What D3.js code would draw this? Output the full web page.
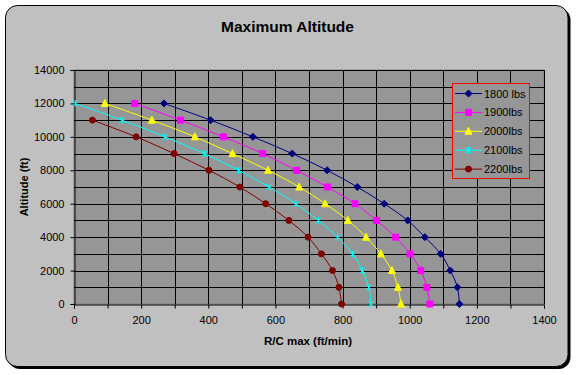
<!DOCTYPE html>
<html>
<head>
<meta charset="utf-8">
<script src="https://cdn.jsdelivr.net/npm/d3@7"></script>
<style>
  body { margin: 0; background: #fff; }
  text { font-family: "Liberation Sans", Arial, sans-serif; }
</style>
</head>
<body>
<div id="chart"></div>
<script>
let w = 576;
let h = 375;

// altitude (ft) for each point, top to bottom
let altitudes = [12000, 11000, 10000, 9000, 8000, 7000, 6000, 5000, 4000, 3000, 2000, 1000, 0];

// R/C max (ft/min) at each altitude
let rc1800 = [268, 407, 533, 650, 754, 844, 924, 994, 1045, 1092, 1121, 1142, 1148];
let rc1900 = [181, 317, 445, 562, 663, 755, 837, 901, 958, 1001, 1033, 1051, 1060];
let rc2000 = [92, 232, 360, 472, 578, 671, 748, 816, 870, 914, 947, 965, 974];
let rc2100 = [4, 143, 271, 388, 490, 581, 661, 728, 785, 830, 859, 878, 885];
let rc2200 = [null, 55, 185, 298, 402, 494, 571, 640, 697, 737, 770, 789, 797];

let seriesNames = ["1800 lbs", "1900lbs", "2000lbs", "2100lbs", "2200lbs"];
let xTicks = [0, 200, 400, 600, 800, 1000, 1200, 1400];
let yTicks = [0, 2000, 4000, 6000, 8000, 10000, 12000, 14000];

let series = [
    { name: seriesNames[0], vals: rc1800, color: "#000080", marker: "diamond" },
    { name: seriesNames[1], vals: rc1900, color: "#ff00ff", marker: "square" },
    { name: seriesNames[2], vals: rc2000, color: "#ffff00", marker: "triangle" },
    { name: seriesNames[3], vals: rc2100, color: "#00ffff", marker: "x" },
    { name: seriesNames[4], vals: rc2200, color: "#800000", marker: "circle" }
];

let svg = d3.select("#chart").append("svg")
    .attr("width", w)
    .attr("height", h);

// chart frame with shadow
svg.append("rect")
    .attr("x", 8).attr("y", 8)
    .attr("width", 562.5).attr("height", 361)
    .attr("rx", 12)
    .attr("fill", "#000");
svg.append("rect")
    .attr("x", 5.5).attr("y", 5.5)
    .attr("width", 562.5).attr("height", 361)
    .attr("rx", 12)
    .attr("fill", "#c0c0c0")
    .attr("stroke", "#000")
    .attr("stroke-width", 1);

let plotLeft = 74, plotRight = 544, plotTop = 70, plotBottom = 304;

let xScale = d3.scaleLinear().domain([0, 1400]).range([plotLeft, plotRight]);
let yScale = d3.scaleLinear().domain([0, 14000]).range([plotBottom, plotTop]);

// plot area
svg.append("rect")
    .attr("x", plotLeft).attr("y", plotTop)
    .attr("width", plotRight - plotLeft).attr("height", plotBottom - plotTop)
    .attr("fill", "#969696")
    .attr("stroke", "#808080");

// gridlines
let grid = svg.append("g").attr("stroke", "#000").attr("stroke-width", 1);
grid.selectAll(".vg").data(d3.range(100, 1401, 100)).enter()
    .append("line")
    .attr("x1", d => Math.round(xScale(d)) + 0.5)
    .attr("x2", d => Math.round(xScale(d)) + 0.5)
    .attr("y1", plotTop).attr("y2", plotBottom);
grid.selectAll(".hg").data(d3.range(1000, 14001, 1000)).enter()
    .append("line")
    .attr("y1", d => Math.round(yScale(d)) + 0.5)
    .attr("y2", d => Math.round(yScale(d)) + 0.5)
    .attr("x1", plotLeft).attr("x2", plotRight);

// axes
let xAxis = d3.axisBottom(xScale)
    .tickValues(d3.range(0, 1401, 100))
    .tickSize(4)
    .tickFormat(d => xTicks.includes(d) ? d : "");
let xAxisGroup = svg.append("g")
    .attr("transform", "translate(0," + (Math.round(plotBottom) + 0.5) + ")")
    .call(xAxis);

let yAxis = d3.axisLeft(yScale)
    .tickValues(yTicks)
    .tickSize(4)
    .tickFormat(d => d);
let yAxisGroup = svg.append("g")
    .attr("transform", "translate(" + (plotLeft + 0.5) + ",0)")
    .call(yAxis);

[xAxisGroup, yAxisGroup].forEach(g => {
    g.selectAll("path").attr("stroke", "#000");
    g.selectAll("line").attr("stroke", "#000");
    g.selectAll("text")
        .attr("font-family", "Liberation Sans, Arial, sans-serif")
        .attr("font-size", 11)
        .attr("fill", "#000");
});
xAxisGroup.selectAll("text").attr("dy", "0.9em").attr("y", 10);
yAxisGroup.selectAll("text").attr("x", -10);

// lines
let lineMaker = d3.line()
    .x(d => xScale(d.rc))
    .y(d => yScale(d.alt))
    .curve(d3.curveCatmullRom.alpha(0.5));

function markerPath(type, cx, cy) {
    if (type == "diamond") {
        return "M" + cx + "," + (cy - 3.5) + "L" + (cx + 3.5) + "," + cy + "L" + cx + "," + (cy + 3.5) + "L" + (cx - 3.5) + "," + cy + "Z";
    } else if (type == "square") {
        return "M" + (cx - 3) + "," + (cy - 3) + "h6v6h-6Z";
    } else if (type == "triangle") {
        return "M" + cx + "," + (cy - 4) + "L" + (cx + 3.5) + "," + (cy + 3) + "L" + (cx - 3.5) + "," + (cy + 3) + "Z";
    } else if (type == "x") {
        return "M" + (cx - 3) + "," + (cy - 3) + "L" + (cx + 3) + "," + (cy + 3) +
            "M" + (cx + 3) + "," + (cy - 3) + "L" + (cx - 3) + "," + (cy + 3) +
            "M" + cx + "," + (cy - 3.5) + "L" + cx + "," + (cy + 3.5);
    } else {
        return "M" + (cx - 3) + "," + cy + "a3,3 0 1,0 6,0a3,3 0 1,0 -6,0Z";
    }
}

function drawMarker(g, s, cx, cy) {
    let p = g.append("path").attr("d", markerPath(s.marker, cx, cy));
    if (s.marker == "x") {
        p.attr("fill", "none").attr("stroke", s.color).attr("stroke-width", 1);
    } else {
        p.attr("fill", s.color).attr("stroke", s.color).attr("stroke-width", 1);
    }
}

series.forEach(s => {
    let pts = altitudes.map((a, i) => ({ alt: a, rc: s.vals[i] })).filter(d => d.rc != null);
    let g = svg.append("g");
    g.append("path")
        .attr("d", lineMaker(pts))
        .attr("fill", "none")
        .attr("stroke", s.color)
        .attr("stroke-width", 1);
    pts.forEach(d => drawMarker(g, s, xScale(d.rc), yScale(d.alt)));
});

// legend
let legend = svg.append("g");
legend.append("rect")
    .attr("x", 452.5).attr("y", 83.5)
    .attr("width", 77).attr("height", 95)
    .attr("fill", "#969696")
    .attr("stroke", "#ff0000")
    .attr("stroke-width", 1);
series.forEach((s, i) => {
    let ly = 93.5 + i * 18.9;
    legend.append("line")
        .attr("x1", 455).attr("x2", 482)
        .attr("y1", ly).attr("y2", ly)
        .attr("stroke", s.color).attr("stroke-width", 1);
    drawMarker(legend, s, 468.5, ly);
    legend.append("text")
        .attr("x", 484).attr("y", ly + 4)
        .attr("font-size", 11)
        .text(s.name);
});

// titles
svg.append("text")
    .attr("x", 287.5).attr("y", 32)
    .attr("text-anchor", "middle")
    .attr("font-size", 15.5)
    .attr("font-weight", "bold")
    .text("Maximum Altitude");

svg.append("text")
    .attr("transform", "translate(27.5," + ((plotTop + plotBottom) / 2) + ") rotate(-90)")
    .attr("text-anchor", "middle")
    .attr("font-size", 11)
    .attr("font-weight", "bold")
    .text("Altitude (ft)");

svg.append("text")
    .attr("x", 308).attr("y", 345)
    .attr("text-anchor", "middle")
    .attr("font-size", 11.5)
    .attr("font-weight", "bold")
    .text("R/C max (ft/min)");
</script>
</body>
</html>
